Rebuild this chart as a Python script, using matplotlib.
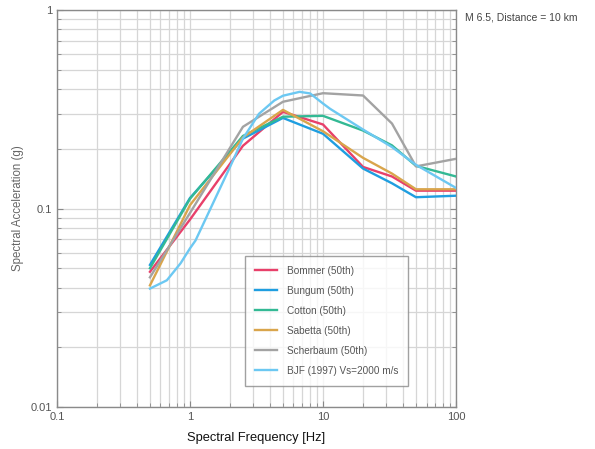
import matplotlib
matplotlib.use("Agg")
import matplotlib.pyplot as plt
from matplotlib.ticker import LogLocator, NullFormatter, FixedLocator, FixedFormatter

# ── data ──────────────────────────────────────────────────────────────────────
freq_std = [0.5, 1.0, 2.5, 5.0, 10.0, 20.0, 33.0, 50.0, 100.0]
bommer   = [0.048, 0.088, 0.207, 0.307, 0.265, 0.162, 0.145, 0.123, 0.123]
bungum   = [0.052, 0.113, 0.225, 0.286, 0.238, 0.159, 0.134, 0.114, 0.116]
cotton   = [0.050, 0.112, 0.232, 0.290, 0.293, 0.247, 0.208, 0.164, 0.145]
sabetta  = [0.041, 0.104, 0.228, 0.314, 0.245, 0.180, 0.150, 0.125, 0.125]
scherb   = [0.045, 0.095, 0.258, 0.345, 0.381, 0.371, 0.268, 0.163, 0.178]

freq_bjf = [0.5, 0.67, 0.85, 1.0, 1.1, 2.0, 2.5, 3.3, 4.3, 5.0, 6.67, 8.0,
            10.0, 11.3, 20.0, 33.0, 50.0, 100.0]
bjf      = [0.0395, 0.0435, 0.053, 0.063, 0.069, 0.162, 0.225, 0.300, 0.350,
            0.370, 0.387, 0.380, 0.338, 0.318, 0.250, 0.204, 0.166, 0.127]

series = [
    ("Bommer (50th)",    freq_std, bommer,  "#e8406a"),
    ("Bungum (50th)",    freq_std, bungum,  "#1f9ee0"),
    ("Cotton (50th)",    freq_std, cotton,  "#33b994"),
    ("Sabetta (50th)",   freq_std, sabetta, "#d9a54c"),
    ("Scherbaum (50th)", freq_std, scherb,  "#a3a3a3"),
    ("BJF (1997) Vs=2000 m/s", freq_bjf, bjf, "#6cc8f2"),
]

x_ticks = [0.1, 1, 10, 100]
x_labels = ["0.1", "1", "10", "100"]
y_ticks = [0.01, 0.1, 1]
y_labels = ["0.01", "0.1", "1"]

# ── figure ────────────────────────────────────────────────────────────────────
fig = plt.figure(figsize=(5.95, 4.49), dpi=100)
ax = fig.add_axes([0.0958, 0.0935, 0.6706, 0.8842])
plt.rcParams["font.family"] = ["Liberation Sans", "DejaVu Sans"]

for label, f, v, c in series:
    ax.plot(f, v, color=c, lw=1.7, label=label, zorder=3)

ax.set_xscale("log")
ax.set_yscale("log")
ax.set_xlim(0.1, 100)
ax.set_ylim(0.01, 1)

ax.xaxis.set_major_locator(FixedLocator(x_ticks))
ax.xaxis.set_major_formatter(FixedFormatter(x_labels))
ax.yaxis.set_major_locator(FixedLocator(y_ticks))
ax.yaxis.set_major_formatter(FixedFormatter(y_labels))
ax.xaxis.set_minor_locator(LogLocator(base=10, subs=range(2, 10)))
ax.yaxis.set_minor_locator(LogLocator(base=10, subs=range(2, 10)))
ax.xaxis.set_minor_formatter(NullFormatter())
ax.yaxis.set_minor_formatter(NullFormatter())

ax.grid(True, which="both", color="#d6d6d6", lw=0.9, zorder=0)
ax.set_axisbelow(True)
ax.tick_params(which="both", direction="in", top=False, right=True,
               color="#888888", labelsize=8, labelcolor="#555555",
               labelfontfamily="Liberation Sans")
ax.tick_params(which="major", length=4)
ax.tick_params(which="minor", length=3)
for s in ax.spines.values():
    s.set_color("#8a8a8a")
    s.set_linewidth(1.0)

ax.set_xlabel("Spectral Frequency [Hz]", fontsize=9.3, color="#111111",
              family="Liberation Sans", labelpad=7)
ax.set_ylabel("Spectral Acceleration (g)", fontsize=8.3, color="#666666",
              family="Liberation Sans", labelpad=5)

fig.text(0.782, 0.962, "M 6.5, Distance = 10 km", fontsize=7.5,
         color="#444444", family="Liberation Sans", va="center")

leg = ax.legend(loc="lower left", bbox_to_anchor=(0.471, 0.053),
                borderaxespad=0.0, frameon=True, fancybox=False,
                edgecolor="#8a8a8a", handlelength=2.2, handletextpad=1.0,
                labelspacing=1.0, borderpad=1.0,
                prop={"family": "Liberation Sans", "size": 7.2})
leg.get_frame().set_linewidth(1.0)
for t in leg.get_texts():
    t.set_color("#555555")

fig.savefig("out.png", dpi=100)
